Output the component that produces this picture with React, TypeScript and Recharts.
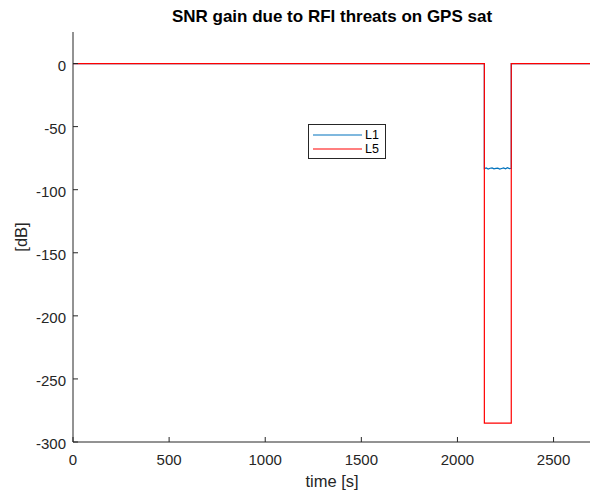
import { LineChart, Line, XAxis, YAxis } from 'recharts';

const timeSec = [0, 2140, 2140, 2150, 2160, 2170, 2180, 2190, 2200, 2210, 2220, 2230, 2240, 2250, 2260, 2270, 2280, 2280, 2700];
const gainL1 = [0, 0, -83.3, -82.8, -83.6, -83.0, -82.7, -83.5, -83.1, -82.9, -83.7, -83.2, -82.8, -83.4, -82.6, -83.3, -83.0, 0, 0];
const gainL5 = [0, 0, -285, -285, -285, -285, -285, -285, -285, -285, -285, -285, -285, -285, -285, -285, -285, 0, 0];

const xTicks = [0, 500, 1000, 1500, 2000, 2500];
const yTicks = [0, -50, -100, -150, -200, -250, -300];

const data = timeSec.map((t, i) => ({ t, L1: gainL1[i], L5: gainL5[i] }));

const AXIS = '#262626';
const FONT = '"Liberation Sans", Arial, Helvetica, sans-serif';
const TICK_LEN = 5;

const BottomTick = ({ x, y, payload }: any) => (
    <g>
        <line x1={x} x2={x} y1={y} y2={y - TICK_LEN} stroke={AXIS} />
        <text x={x} y={y + 23} textAnchor="middle" fontSize={15} fill={AXIS} fontFamily={FONT}>
            {payload.value}
        </text>
    </g>
);

const TopTick = ({ x, y }: any) => (
    <line x1={x} x2={x} y1={y} y2={y + TICK_LEN} stroke={AXIS} />
);

const LeftTick = ({ x, y, payload }: any) => (
    <g>
        <line x1={x} x2={x + TICK_LEN} y1={y} y2={y} stroke={AXIS} />
        <text x={x - 7} y={y + 7} textAnchor="end" fontSize={15} fill={AXIS} fontFamily={FONT}>
            {payload.value}
        </text>
    </g>
);

const RightTick = ({ x, y }: any) => (
    <line x1={x - TICK_LEN} x2={x} y1={y} y2={y} stroke={AXIS} />
);

const LegendBox = () => (
    <div
        style={{
            position: 'absolute',
            left: 308,
            top: 124,
            border: '1px solid #262626',
            background: '#fff',
            width: 78,
            height: 35,
            fontFamily: FONT,
            fontSize: 12.5,
            color: '#000',
            boxSizing: 'border-box',
            paddingTop: 3,
        }}
    >
        {[
            { name: 'L1', color: '#0072BD' },
            { name: 'L5', color: '#FF0000' },
        ].map((s) => (
            <div key={s.name} style={{ display: 'flex', alignItems: 'center', height: 14 }}>
                <svg width={56} height={14}>
                    <line x1={4} x2={53} y1={7} y2={7} stroke={s.color} strokeWidth={1.2} />
                </svg>
                <span style={{ lineHeight: '14px' }}>{s.name}</span>
            </div>
        ))}
    </div>
);

export default function App() {
    return (
        <div style={{ position: 'absolute', left: 0, top: 0, width: 590, height: 494, overflow: 'hidden', background: '#fff' }}>
            <div
                style={{
                    position: 'absolute',
                    left: 0,
                    width: 664,
                    top: 8,
                    textAlign: 'center',
                    fontFamily: FONT,
                    fontWeight: 'bold',
                    fontSize: 17,
                    lineHeight: '17px',
                    color: '#000',
                }}
            >
                SNR gain due to RFI threats on GPS sat
            </div>
            <div style={{ position: 'absolute', left: 0, top: 0 }}>
                <LineChart width={600} height={494} data={data} margin={{ top: 32, right: 8, bottom: 0, left: 0 }}>
                    <XAxis
                        dataKey="t"
                        type="number"
                        domain={[0, 2700]}
                        ticks={xTicks}
                        height={52}
                        tickSize={0}
                        tickMargin={0}
                        tickLine={false}
                        axisLine={{ stroke: AXIS }}
                        tick={<BottomTick />}
                        interval={0}
                        label={{
                            content: () => (
                                <text x={332} y={487} textAnchor="middle" fontSize={16.5} fill={AXIS} fontFamily={FONT}>
                                    time [s]
                                </text>
                            ),
                        }}
                    />
                    <XAxis
                        xAxisId="top"
                        orientation="top"
                        dataKey="t"
                        type="number"
                        domain={[0, 2700]}
                        ticks={xTicks}
                        height={0}
                        tickSize={0}
                        tickMargin={0}
                        tickLine={false}
                        axisLine={{ stroke: AXIS }}
                        tick={<TopTick />}
                        interval={0}
                    />
                    <YAxis
                        type="number"
                        domain={[-300, 25]}
                        ticks={yTicks}
                        width={73}
                        tickSize={0}
                        tickMargin={0}
                        tickLine={false}
                        axisLine={{ stroke: AXIS }}
                        tick={<LeftTick />}
                        interval={0}
                        allowDataOverflow
                        label={{
                            content: () => (
                                <text
                                    x={21}
                                    y={237}
                                    transform="rotate(-90 21 237)"
                                    textAnchor="middle"
                                    dominantBaseline="central"
                                    fontSize={16.5}
                                    fill={AXIS}
                                    fontFamily={FONT}
                                >
                                    [dB]
                                </text>
                            ),
                        }}
                    />
                    <YAxis
                        yAxisId="right"
                        orientation="right"
                        type="number"
                        domain={[-300, 25]}
                        ticks={yTicks}
                        width={0}
                        tickSize={0}
                        tickMargin={0}
                        tickLine={false}
                        axisLine={{ stroke: AXIS }}
                        tick={<RightTick />}
                        interval={0}
                        allowDataOverflow
                    />
                    <Line
                        type="linear"
                        dataKey="L1"
                        stroke="#0072BD"
                        strokeWidth={1.2}
                        dot={false}
                        isAnimationActive={false}
                    />
                    <Line
                        type="linear"
                        dataKey="L5"
                        stroke="#FF0000"
                        strokeWidth={1.2}
                        dot={false}
                        isAnimationActive={false}
                    />
                </LineChart>
            </div>
            <LegendBox />
        </div>
    );
}
